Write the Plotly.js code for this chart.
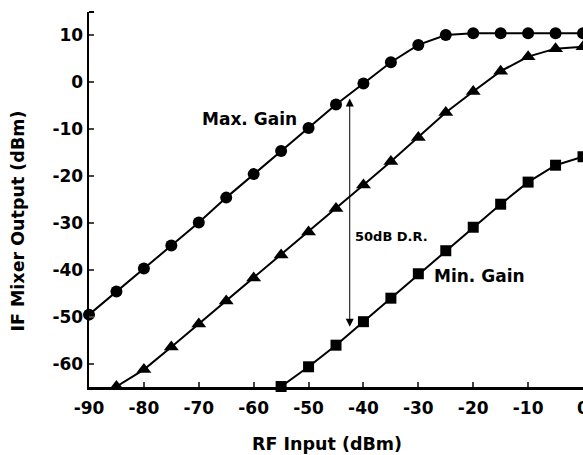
<!DOCTYPE html>
<html>
<head>
<meta charset="utf-8">
<script src="https://cdn.plot.ly/plotly-3.0.1.min.js"></script>
<style>html,body{margin:0;padding:0;background:#fff;}#chart{width:583px;height:455px;}</style>
</head>
<body>
<div id="chart"></div>
<script>
const maxX = [-90,-85,-80,-75,-70,-65,-60,-55,-50,-45,-40,-35,-30,-25,-20,-15,-10,-5,0];
const maxY = [-49.5,-44.6,-39.7,-34.8,-29.9,-24.6,-19.6,-14.7,-9.8,-4.8,-0.3,4.2,7.9,10.0,10.4,10.4,10.4,10.4,10.4];
const midX = [-85,-80,-75,-70,-65,-60,-55,-50,-45,-40,-35,-30,-25,-20,-15,-10,-5,0];
const midY = [-64.8,-61.2,-56.4,-51.5,-46.6,-41.7,-36.8,-31.9,-26.9,-21.9,-16.9,-11.8,-6.5,-2.0,2.3,5.4,7.1,7.5];
const minX = [-55,-50,-45,-40,-35,-30,-25,-20,-15,-10,-5,0];
const minY = [-64.8,-60.6,-56.0,-51.0,-46.0,-40.8,-35.9,-30.9,-26.0,-21.3,-17.7,-15.9];
const xTicks = [-90,-80,-70,-60,-50,-40,-30,-20,-10,0];
const yTicks = [-60,-50,-40,-30,-20,-10,0,10];

const FONT = "DejaVu Sans";
const line = {color:'#000', width:2};
const traces = [
  {x:maxX, y:maxY, mode:'lines+markers', line:line, marker:{symbol:'circle', size:12, color:'#000'}, cliponaxis:false},
  {x:midX, y:midY, mode:'lines+markers', line:line, marker:{symbol:'triangle-up', size:13, color:'#000'}, cliponaxis:false},
  {x:minX, y:minY, mode:'lines+markers', line:line, marker:{symbol:'square', size:11, color:'#000'}, cliponaxis:false}
];
const layout = {
  width:583, height:455,
  margin:{l:89, r:0, t:12, b:68},
  paper_bgcolor:'#fff', plot_bgcolor:'#fff',
  showlegend:false,
  font:{family:FONT, color:'#000'},
  xaxis:{range:[-90,0], tickvals:xTicks, ticktext:xTicks.map(String), ticks:'inside', ticklen:5, tickwidth:2,
         showline:true, linewidth:2.5, linecolor:'#000', showgrid:false, zeroline:false, ticklabeloverflow:'allow',
         ticklabelstandoff:4,
         tickfont:{family:FONT, size:17, weight:'bold', color:'#000'}},
  yaxis:{range:[-64.9,14.9], tickvals:yTicks, ticktext:yTicks.map(String), ticks:'inside', ticklen:5, tickwidth:2,
         showline:true, linewidth:2.5, linecolor:'#000', showgrid:false, zeroline:false, ticklabeloverflow:'allow',
         tickfont:{family:FONT, size:17, weight:'bold', color:'#000'}},
  shapes:[
    {type:'line', xref:'paper', yref:'paper', xsizemode:'pixel', xanchor:0, x0:0, x1:5, y0:1, y1:1, line:{color:'#000', width:2}}
  ],
  annotations:[
    {xref:'paper', yref:'y', x:0, y:-29.6, xshift:-70.5, xanchor:'center', yanchor:'middle', textangle:-90,
     text:'IF Mixer Output (dBm)', showarrow:false, font:{family:FONT, size:17.5, weight:'bold', color:'#000'}},
    {xref:'x', yref:'paper', x:-46.6, y:0, yshift:-57, xanchor:'center', yanchor:'middle',
     text:'RF Input (dBm)', showarrow:false, font:{family:FONT, size:17.5, weight:'bold', color:'#000'}},
    {xref:'x', yref:'y', x:-60.7, y:-7.9, text:'Max. Gain', showarrow:false, xanchor:'center', yanchor:'middle',
     font:{family:FONT, size:17, weight:'bold', color:'#000'}},
    {xref:'x', yref:'y', x:-18.8, y:-41.3, text:'Min. Gain', showarrow:false, xanchor:'center', yanchor:'middle',
     font:{family:FONT, size:17, weight:'bold', color:'#000'}},
    {xref:'x', yref:'y', x:-34.8, y:-32.8, text:'50dB D.R.', showarrow:false, xanchor:'center', yanchor:'middle',
     font:{family:FONT, size:13, weight:'bold', color:'#000'}},
    {xref:'x', yref:'y', x:-42.5, y:-3.5, axref:'x', ayref:'y', ax:-42.5, ay:-52.4, text:'', showarrow:true,
     arrowside:'end+start', arrowhead:2, arrowsize:1.6, arrowwidth:1, arrowcolor:'#000', standoff:0, startstandoff:0}
  ]
};
Plotly.newPlot('chart', traces, layout, {displayModeBar:false, staticPlot:true});
</script>
</body>
</html>
